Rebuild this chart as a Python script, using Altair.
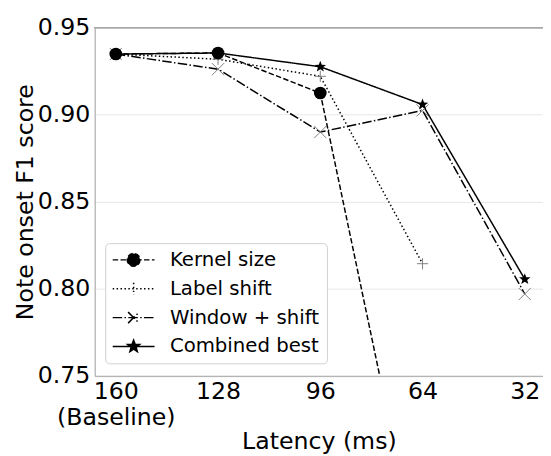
import math
import altair as alt
import pandas as pd

# ---------------- data ----------------
latency = [160, 128, 96, 64, 32]
series_names = ["Kernel size", "Label shift", "Window + shift", "Combined best"]
kernel_size = [0.9348, 0.9354, 0.9124, 0.633]          # 160..64 (64 falls below the axis)
label_shift = [0.9348, 0.9318, 0.9220, 0.8144]         # 160..64
window_shift = [0.9348, 0.9261, 0.8900, 0.9024, 0.7970]
combined_best = [0.9348, 0.9354, 0.9275, 0.9058, 0.8055]
y_ticks = [0.75, 0.80, 0.85, 0.90, 0.95]

rows = []
for name, vals in zip(series_names, [kernel_size, label_shift, window_shift, combined_best]):
    for lat, v in zip(latency, vals):
        rows.append({"series": name, "latency": lat, "f1": v})
df = pd.DataFrame(rows)

FONT = "DejaVu Sans"
AXIS_GRAY = "#a8a8a8"
MARK_GRAY = "#808080"


def star_path(r_out=1.0, r_in=0.42):
    pts = []
    for k in range(10):
        ang = math.radians(-90 + 36 * k)
        r = r_out if k % 2 == 0 else r_in
        pts.append((r * math.cos(ang), r * math.sin(ang)))
    return "M" + "L".join(f"{x:.3f},{y:.3f}" for x, y in pts) + "Z"


PLUS = "M-1,0L1,0M0,-1L0,1"
CROSS = "M-1,-1L1,1M-1,1L1,-1"
STAR = star_path()

# legend glyphs: line segment + marker (unit = sqrt(symbolSize)/2 px)
LINE = "M-2.36,0L2.36,0"
leg_circle = LINE + "M0.72,0A0.72,0.72 0 1,1 -0.72,0A0.72,0.72 0 1,1 0.72,0Z"
leg_plus = LINE + "M0,-0.67L0,0.67"
leg_cross = LINE + "M-0.62,-0.62L0.62,0.62M-0.62,0.62L0.62,-0.62"
leg_star = LINE + star_path(0.72, 0.3)

sym_expr = (
    f"datum.value === 'Kernel size' ? '{leg_circle}' : "
    f"datum.value === 'Label shift' ? '{leg_plus}' : "
    f"datum.value === 'Window + shift' ? '{leg_cross}' : '{leg_star}'"
)
fill_expr = (
    "(datum.value === 'Kernel size' || datum.value === 'Combined best') ? 'black' : 'transparent'"
)

x_scale = alt.Scale(domain=[26.3, 166.6], reverse=True, nice=False, zero=False)
y_scale = alt.Scale(domain=[0.75, 0.95], nice=False, zero=False)

x_axis = alt.Axis(
    values=latency, format="d", title="Latency (ms)",
    labelExpr="datum.value == 160 ? ['160', '(Baseline)'] : datum.label",
    labelFont=FONT, labelFontSize=24, labelColor="black", labelLineHeight=26.7,
    labelPadding=4, labelFlush=False, labelOverlap=False,
    ticks=False, grid=False, domainColor=AXIS_GRAY, domainWidth=1,
    titleFont=FONT, titleFontSize=24, titleFontWeight="normal", titleColor="black",
    titleY=73.3, titleBaseline="alphabetic",
)
y_axis = alt.Axis(
    values=y_ticks, format=".2f", title="Note onset F1 score",
    labelFont=FONT, labelFontSize=24, labelColor="black", labelPadding=5,
    labelFlush=False, labelOverlap=False,
    ticks=False, grid=True, gridColor="#e8e8e8", gridWidth=1,
    domainColor=AXIS_GRAY, domainWidth=1,
    titleFont=FONT, titleFontSize=24, titleFontWeight="normal", titleColor="black",
    titleX=-63.5, titleBaseline="alphabetic",
)

X = alt.X("latency:Q", scale=x_scale, axis=x_axis)
Y = alt.Y("f1:Q", scale=y_scale, axis=y_axis)

legend = alt.Legend(
    title=None, orient="none", legendX=10.7, legendY=218.8,
    padding=7, fillColor="white", strokeColor="#d0d0d0", cornerRadius=4,
    labelFont=FONT, labelFontSize=20, labelColor="black", labelOffset=26.8, labelLimit=400,
    symbolType={"expr": sym_expr}, symbolSize=324, symbolStrokeWidth=1.5,
    symbolStrokeColor="black", symbolFillColor={"expr": fill_expr},
    symbolOffset=11.8, rowPadding=9.3,
)

base = alt.Chart(df)

lines = base.mark_line(clip=True, strokeWidth=1.5, color="black").encode(
    x=X, y=Y,
    strokeDash=alt.StrokeDash(
        "series:N",
        scale=alt.Scale(domain=series_names,
                        range=[[5.55, 2.4], [1.5, 2.475], [9.6, 2.4, 1.5, 2.4], [1, 0]]),
        legend=legend,
    ),
    detail="series:N",
)


def markers(name, shape, size, filled, color, sw):
    return base.transform_filter(alt.datum.series == name).mark_point(
        shape=shape, size=size, filled=filled, color=color, strokeWidth=sw,
        opacity=1, clip=True,
    ).encode(x=X, y=Y)


m_kernel = markers("Kernel size", "circle", 165, True, "black", 0)
m_label = markers("Label shift", PLUS, 130, False, MARK_GRAY, 1)
m_window = markers("Window + shift", CROSS, 150, False, MARK_GRAY, 1)
m_comb = markers("Combined best", STAR, 150, True, "black", 0)

top_spine = alt.Chart(df).mark_rule(color=AXIS_GRAY, strokeWidth=1).encode(
    y=alt.Y(datum=0.95, scale=y_scale, axis=y_axis)
)

chart = alt.layer(
    lines, m_label, m_window, m_comb, m_kernel, top_spine
).properties(
    width=455, height=353.5,
    autosize=alt.AutoSizeParams(type="none"),
    padding={"left": 88, "top": 16.5, "right": 0, "bottom": 78},
    background="white",
).configure_view(stroke=None).configure(font=FONT)

chart.save("out.html", embed_options={"renderer": "svg", "actions": False})
